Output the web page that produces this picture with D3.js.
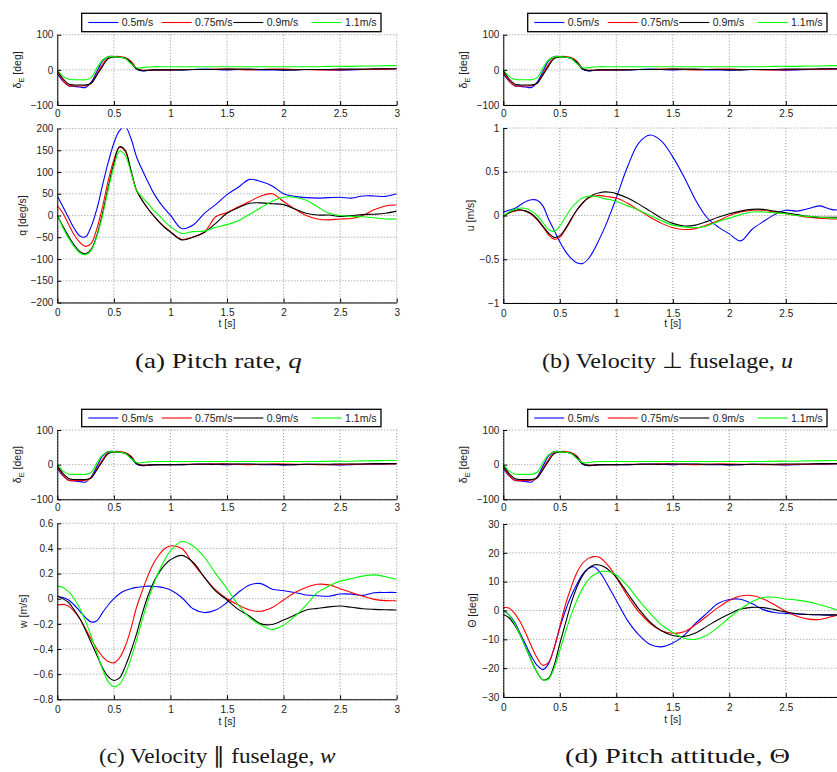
<!DOCTYPE html>
<html>
<head>
<meta charset="utf-8">
<script src="https://cdn.jsdelivr.net/npm/d3@7"></script>
<style>
  html, body { margin: 0; padding: 0; background: #fff; }
  svg { display: block; }
  .tick text { font-family: "Liberation Sans", Arial, sans-serif; font-size: 10px; fill: #222; }
  .lbl { font-family: "Liberation Sans", Arial, sans-serif; font-size: 10.5px; fill: #222; }
  .cap { font-family: "Liberation Serif", "Times New Roman", serif; font-size: 22px; fill: #151515; }
</style>
</head>
<body>
<svg id="fig" width="837" height="772"></svg>
<script>
// Sample times [s]
const T = [0,0.05,0.1,0.15,0.2,0.25,0.3,0.35,0.4,0.45,0.5,0.55,0.6,0.65,0.7,0.75,0.8,0.85,0.9,0.95,1.0,
           1.1,1.2,1.3,1.4,1.5,1.6,1.7,1.8,1.9,2.0,2.1,2.2,2.3,2.4,2.5,2.6,2.7,2.8,2.9,3.0];

const speeds = ["0.5m/s", "0.75m/s", "0.9m/s", "1.1m/s"];
const colors = ["#0000ff", "#ff0000", "#000000", "#00ff00"];
const timeTicks = [0, 0.5, 1, 1.5, 2, 2.5, 3];

// Elevator deflection delta_E [deg]
const dE_05  = [-10,-32,-45,-47,-49,-50,-35,-5,25,38,38,36,33,20,2,-3,-2,-1,0,0,0, 0,1,2,1,0,1,1,0,0,-1,0,1,1,0,-1,0,1,1,2,3];
const dE_075 = [-5,-30,-45,-46,-46,-45,-38,-12,15,35,38,38,35,25,5,-1,-1,0,0,0,0, 1,1,1,2,2,1,0,1,2,2,1,1,0,0,0,1,1,2,2,3];
const dE_09  = [-2,-25,-40,-43,-43,-43,-38,-15,10,32,36,36,33,22,3,-2,-1,0,0,0,0, 0,1,1,1,2,2,2,1,1,0,0,1,1,1,2,2,2,3,3,3];
const dE_11  = [0,-18,-27,-28,-28,-28,-22,5,28,37,37,36,32,18,6,6,8,9,9,9,9, 9,9,9,9,9,9,9,9,9,9,9,9,9,10,10,10,11,11,12,12];

// Pitch rate q [deg/s]
const q_05  = [45,20,-5,-30,-47,-49,-25,15,70,122,166,195,204,178,135,105,78,52,32,15,1, -30,-22,5,25,48,65,83,78,68,50,44,41,40,41,42,40,45,45,44,50];
const q_075 = [23,5,-20,-45,-62,-71,-64,-30,20,80,128,157,148,103,58,35,16,0,-14,-27,-37, -55,-49,-38,-3,7,20,32,45,50,32,15,0,-8,-10,-8,-7,0,13,22,24];
const q_09  = [0,-25,-48,-68,-83,-88,-78,-45,5,65,120,158,150,105,58,35,16,0,-15,-28,-38, -56,-50,-39,-18,5,18,28,29,27,25,15,5,1,1,-2,0,2,3,5,10];
const q_11  = [0,-28,-52,-72,-86,-90,-80,-48,0,60,112,148,138,100,58,42,28,12,0,-14,-26, -41,-37,-36,-27,-21,-12,3,18,33,42,42,35,20,5,0,-2,-3,-5,-8,-8];

// Velocity perpendicular to fuselage u [m/s]
const u_05  = [0.04,0.06,0.08,0.12,0.16,0.18,0.175,0.11,-0.04,-0.17,-0.3,-0.41,-0.49,-0.54,-0.55,-0.5,-0.4,-0.27,-0.13,0.03,0.2, 0.56,0.83,0.92,0.85,0.67,0.44,0.18,-0.02,-0.13,-0.21,-0.29,-0.16,-0.07,0.01,0.06,0.05,0.08,0.11,0.07,0.06];
const u_075 = [-0.01,0.03,0.05,0.06,0.05,0.01,-0.05,-0.13,-0.22,-0.27,-0.25,-0.16,-0.05,0.06,0.14,0.2,0.22,0.23,0.22,0.21,0.2, 0.14,0.06,-0.02,-0.09,-0.14,-0.16,-0.15,-0.11,-0.06,0.0,0.04,0.06,0.06,0.04,0.02,0.0,-0.02,-0.03,-0.04,-0.04];
const u_09  = [-0.01,0.03,0.06,0.065,0.05,0.02,-0.04,-0.12,-0.2,-0.25,-0.23,-0.15,-0.04,0.06,0.14,0.2,0.24,0.26,0.27,0.265,0.25, 0.2,0.13,0.05,-0.03,-0.09,-0.12,-0.11,-0.07,-0.02,0.02,0.05,0.07,0.07,0.05,0.03,0.01,-0.01,-0.02,-0.02,-0.02];
const u_11  = [-0.01,0.04,0.07,0.085,0.08,0.05,0.0,-0.08,-0.16,-0.18,-0.12,-0.02,0.08,0.15,0.2,0.22,0.22,0.21,0.19,0.18,0.16, 0.11,0.06,0.0,-0.06,-0.11,-0.13,-0.14,-0.12,-0.07,-0.03,0.01,0.04,0.04,0.03,0.02,0.0,-0.01,-0.02,-0.03,-0.03];

// Velocity parallel to fuselage w [m/s]
const w_05  = [0.02,0.01,-0.01,-0.05,-0.1,-0.15,-0.185,-0.175,-0.11,-0.05,0.0,0.04,0.065,0.08,0.09,0.095,0.1,0.098,0.094,0.085,0.07, 0.01,-0.08,-0.11,-0.09,-0.03,0.05,0.11,0.12,0.075,0.064,0.05,0.03,0.024,0.02,0.037,0.037,0.027,0.048,0.05,0.05];
const w_075 = [-0.05,-0.045,-0.06,-0.1,-0.16,-0.24,-0.32,-0.4,-0.46,-0.5,-0.51,-0.47,-0.38,-0.24,-0.07,0.06,0.18,0.28,0.35,0.4,0.42, 0.4,0.28,0.17,0.07,0.0,-0.05,-0.09,-0.1,-0.07,-0.01,0.05,0.09,0.115,0.11,0.08,0.05,0.02,-0.005,-0.015,-0.016];
const w_09  = [0.02,0.0,-0.03,-0.09,-0.16,-0.25,-0.35,-0.45,-0.55,-0.62,-0.65,-0.63,-0.54,-0.42,-0.28,-0.12,0.02,0.13,0.21,0.27,0.31, 0.345,0.29,0.17,0.06,-0.01,-0.085,-0.14,-0.2,-0.205,-0.17,-0.13,-0.09,-0.077,-0.065,-0.058,-0.068,-0.08,-0.085,-0.088,-0.09];
const w_11  = [0.1,0.09,0.056,0.0,-0.077,-0.18,-0.3,-0.43,-0.56,-0.66,-0.7,-0.68,-0.6,-0.48,-0.33,-0.17,-0.02,0.11,0.22,0.31,0.38, 0.455,0.42,0.33,0.2,0.08,-0.05,-0.15,-0.21,-0.244,-0.21,-0.14,-0.05,0.05,0.1,0.14,0.16,0.18,0.19,0.175,0.155];

// Pitch attitude Theta [deg]
const th_05  = [0,-1.5,-4,-8,-12,-16,-19,-20.5,-18.5,-13,-6,0,5,9,12.5,14.5,15.2,13.5,10.5,7,3.5, -3.5,-8.5,-11.8,-12.6,-11.3,-8.6,-4.5,-1,2.4,3.8,3.9,2.4,0.3,-0.7,-1,-1.2,-1.4,-1.5,-1.6,-1.5];
const th_075 = [1,0.9,-1,-4,-8,-12.5,-16.5,-19,-18,-13,-5.5,2,8,13,16.3,18,18.7,18.5,16.8,14.5,11.5, 5,-0.5,-4.5,-7,-7.9,-7.4,-5,-2,1,3.5,5,5.2,4,2,-0.3,-2,-3,-3.1,-2.2,-1];
const th_09  = [-1.4,-2.5,-5,-8.5,-13,-17.5,-21.5,-24,-23.5,-19,-11.5,-4.5,2.5,8,12,14.5,15.8,15.8,15,13.5,11.5, 6,0.5,-4,-7,-8.7,-9,-7.8,-5.5,-3.2,-1.2,0.5,1.1,1,0.3,-0.5,-1.1,-1.4,-1.5,-1.5,-1.5];
const th_11  = [0,-1.5,-4.5,-8.5,-13,-17.5,-21.5,-24,-23.8,-20,-13.8,-7.5,-1.5,3.5,7.5,10.5,12.3,13.3,13.6,13.3,12.3, 8.5,3.5,-1,-5,-7.6,-9.6,-10,-8.6,-5.8,-2.5,0.5,3,4.5,4.6,4,3.6,3,2,0.9,-0.5];

const dE = [dE_05, dE_075, dE_09, dE_11];

const W = 837;

const panels = [
  { x: [57.3, 396.7], top: [34.7, 105], bot: [128.5, 302.5], dom: [-200, 200], ticks: [-200,-150,-100,-50,0,50,100,150,200],
    ylab: "q [deg/s]", series: [q_05, q_075, q_09, q_11], legendY: [13.3, 31.7], labX: 22, dEX: 17,
    capText: ["(a) Pitch rate, ", "q"], capX0: 135, capX1: 302, capY: 368, tickY: 13.5, tlabY: 327 },
  { x: [503.3, 842.3], top: [34.7, 105], bot: [128, 303], dom: [-1, 1], ticks: [-1,-0.5,0,0.5,1],
    ylab: "u [m/s]", series: [u_05, u_075, u_09, u_11], legendY: [13.3, 31.7], labX: 470, dEX: 463,
    capText: ["(b) Velocity \u22a5 fuselage, ", "u"], capX0: 542, capX1: 793, capY: 368, tickY: 13.5, tlabY: 327 },
  { x: [57.3, 396.7], top: [430, 499.3], bot: [523.3, 699.3], dom: [-0.8, 0.6], ticks: [-0.8,-0.6,-0.4,-0.2,0,0.2,0.4,0.6],
    ylab: "w [m/s]", series: [w_05, w_075, w_09, w_11], legendY: [409.3, 426.7], labX: 23, dEX: 17,
    capText: ["(c) Velocity \u2225 fuselage, ", "w"], capX0: 99, capX1: 335, capY: 763, tickY: 13.5, tlabY: 725 },
  { x: [503.3, 842.3], top: [430, 499.3], bot: [524, 697], dom: [-30, 30], ticks: [-30,-20,-10,0,10,20,30],
    ylab: "\u0398 [deg]", series: [th_05, th_075, th_09, th_11], legendY: [409.3, 426.7], labX: 472, dEX: 463,
    capText: ["(d) Pitch attitude, ", "\u0398"], capX0: 565, capX1: 790, capY: 763, tickY: 13.5, tlabY: 723 }
];

const svg = d3.select("#fig");
const fmt = d => d3.format("~g")(d).replace("-", "\u2212");
let clipId = 0;

function subplot(g, xs, yRange, dom, ticks, seriesList, tickY) {
  const y = d3.scaleLinear().domain(dom).range([yRange[1], yRange[0]]);
  const [x0, x1] = xs.range();
  const [yb, yt] = [yRange[1], yRange[0]];
  // only the time ticks that fall inside the page get labels
  const shownTicks = timeTicks.filter(t => xs(t) <= W - 4);

  // dotted grid
  const grid = g.append("g").attr("stroke", "#777").attr("stroke-width", 0.8).attr("stroke-dasharray", "1,2");
  timeTicks.forEach(t => grid.append("line").attr("x1", xs(t)).attr("x2", xs(t)).attr("y1", yt).attr("y2", yb));
  ticks.forEach(v => grid.append("line").attr("x1", x0).attr("x2", x1).attr("y1", y(v)).attr("y2", y(v)));

  // data lines
  const id = "clip" + (clipId++);
  g.append("clipPath").attr("id", id).append("rect")
    .attr("x", x0).attr("y", yt).attr("width", x1 - x0).attr("height", yb - yt);
  const line = d3.line().x((d, i) => xs(T[i])).y(d => y(d)).curve(d3.curveCatmullRom.alpha(0.5));
  const lg = g.append("g").attr("clip-path", `url(#${id})`);
  seriesList.forEach((s, k) => {
    lg.append("path").attr("d", line(s)).attr("fill", "none")
      .attr("stroke", colors[k]).attr("stroke-width", 1.1).attr("stroke-linejoin", "round");
  });

  // axes
  const ax = g.append("g").attr("transform", `translate(${x0},0)`)
    .call(d3.axisLeft(y).tickValues(ticks).tickFormat(fmt).tickSizeInner(-4).tickSizeOuter(0).tickPadding(4));
  const bx = g.append("g").attr("transform", `translate(0,${yb})`)
    .call(d3.axisBottom(xs).tickValues(shownTicks).tickFormat(fmt).tickSizeInner(-4).tickSizeOuter(0).tickPadding(0));
  bx.selectAll(".tick text").attr("y", tickY).attr("dy", null);
  [ax, bx].forEach(a => {
    a.select(".domain").attr("stroke", "#000").attr("stroke-width", 1);
    a.selectAll(".tick line").attr("stroke", "#000");
  });
  return y;
}

panels.forEach(p => {
  const g = svg.append("g");
  const xs = d3.scaleLinear().domain([0, 3]).range(p.x);

  // elevator deflection strip
  subplot(g, xs, p.top, [-100, 100], [-100, 0, 100], dE, 12);
  const dEmid = (p.top[0] + p.top[1]) / 2;
  const dl = g.append("text").attr("class", "lbl").attr("text-anchor", "middle")
    .attr("transform", `translate(${p.dEX + 3.5},${dEmid}) rotate(-90)`);
  dl.append("tspan").text("\u03b4");
  dl.append("tspan").attr("font-size", "7.5px").attr("dy", 3).text("E");
  dl.append("tspan").attr("dy", -3).text(" [deg]");

  // response strip
  subplot(g, xs, p.bot, p.dom, p.ticks, p.series, p.tickY);
  g.append("text").attr("class", "lbl").attr("text-anchor", "middle")
    .attr("transform", `translate(${p.labX + 3.5},${(p.bot[0] + p.bot[1]) / 2}) rotate(-90)`)
    .text(p.ylab);
  g.append("text").attr("class", "lbl").attr("text-anchor", "middle")
    .attr("x", (p.x[0] + p.x[1]) / 2).attr("y", p.tlabY).text("t [s]");

  // legend
  const lx0 = p.x[0] + 24.4, lx1 = p.x[0] + 323.7;
  const [ly0, ly1] = p.legendY;
  const lyc = (ly0 + ly1) / 2;
  const leg = g.append("g");
  leg.append("rect").attr("x", lx0).attr("y", ly0).attr("width", lx1 - lx0).attr("height", ly1 - ly0)
    .attr("fill", "#fff").attr("stroke", "#000").attr("stroke-width", 1.3);
  const entryX = [31, 104.4, 176, 254.4];
  speeds.forEach((s, k) => {
    const ex = p.x[0] + entryX[k];
    leg.append("line").attr("x1", ex).attr("x2", ex + 30).attr("y1", lyc).attr("y2", lyc)
      .attr("stroke", colors[k]).attr("stroke-width", 1.1);
    leg.append("text").attr("class", "lbl").attr("x", ex + 33.4).attr("y", lyc + 3.8).text(s);
  });

  // caption, widened horizontally to fill its column
  const cap = g.append("text").attr("class", "cap").attr("text-anchor", "start")
    .attr("x", 0).attr("y", 0);
  cap.append("tspan").text(p.capText[0]);
  cap.append("tspan").attr("font-style", p.capText[1] === "\u0398" ? "normal" : "italic").text(p.capText[1]);
  const natural = cap.node().getComputedTextLength();
  const sx = (p.capX1 - p.capX0) / natural;
  cap.attr("transform", `translate(${p.capX0},${p.capY}) scale(${sx.toFixed(3)},1)`);
});
</script>
</body>
</html>
